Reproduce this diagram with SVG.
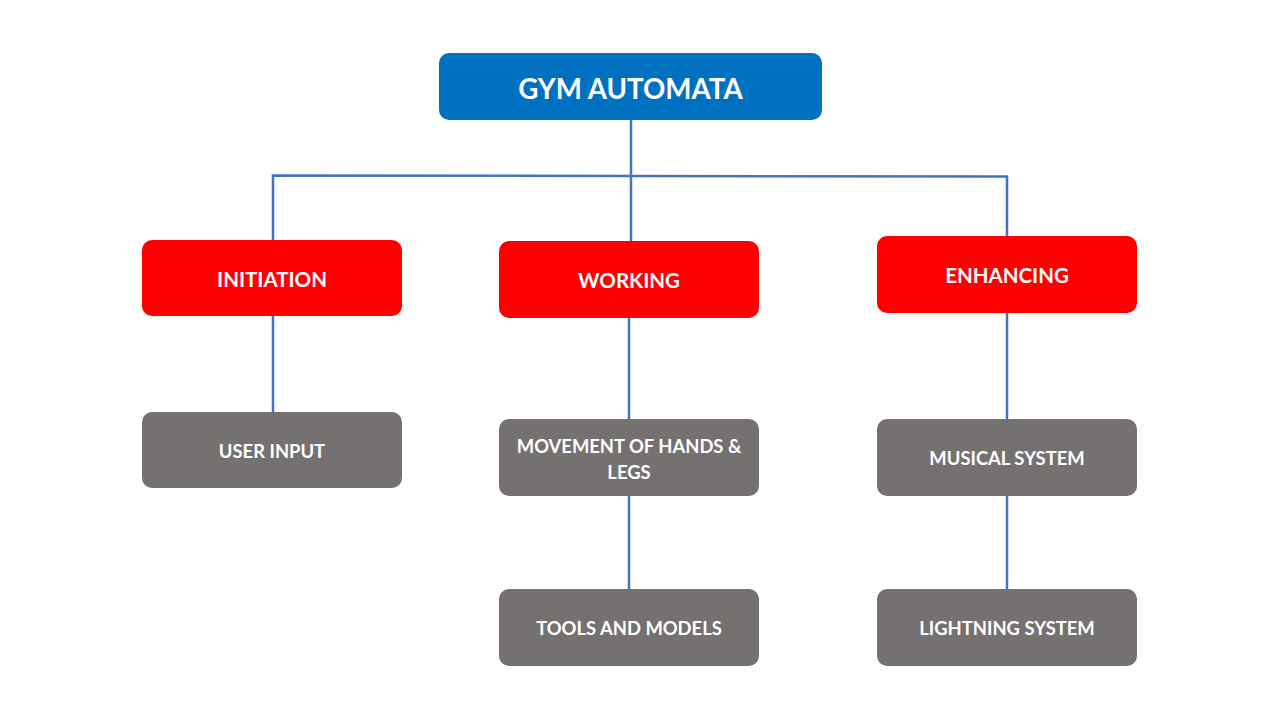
<svg xmlns="http://www.w3.org/2000/svg" width="1280" height="720" viewBox="0 0 1280 720">
<style>
.t{font-family:Lato,"Open Sans","Liberation Sans",sans-serif;font-weight:700;fill:#fff;text-anchor:middle;dominant-baseline:central}
.top{fill:#0070C0}
.red{fill:#FF0000}
.grey{fill:#767171}
.c{stroke:#4472C4;stroke-width:2.5;fill:none}
</style>
<rect width="1280" height="720" fill="#fff"/>
<g id="connectors">
<line class="c" x1="631" y1="120" x2="631" y2="241"/>
<polyline class="c" points="273,240 273,175.5 1007,176.5 1007,236"/>
<line class="c" x1="273" y1="316" x2="273" y2="412"/>
<line class="c" x1="629" y1="318" x2="629" y2="419"/>
<line class="c" x1="629" y1="496" x2="629" y2="589"/>
<line class="c" x1="1007" y1="313" x2="1007" y2="419"/>
<line class="c" x1="1007" y1="496" x2="1007" y2="589"/>
</g>
<g id="gym-automata">
<rect class="top" x="439" y="53" width="383" height="67" rx="10"/>
<text class="t" x="630.5" y="88" font-size="27.7">GYM AUTOMATA</text>
</g>
<g id="initiation">
<rect class="red" x="142" y="240" width="260" height="76" rx="10"/>
<text class="t" x="272" y="279" font-size="20.5">INITIATION</text>
</g>
<g id="working">
<rect class="red" x="499" y="241" width="260" height="77" rx="10"/>
<text class="t" x="629" y="280" font-size="20.5">WORKING</text>
</g>
<g id="enhancing">
<rect class="red" x="877" y="236" width="260" height="77" rx="10"/>
<text class="t" x="1007" y="275" font-size="20.5">ENHANCING</text>
</g>
<g id="user-input">
<rect class="grey" x="142" y="412" width="260" height="76" rx="10"/>
<text class="t" x="272" y="451" font-size="18.4">USER INPUT</text>
</g>
<g id="movement">
<rect class="grey" x="499" y="419" width="260" height="77" rx="10"/>
<text class="t" x="629" y="446" font-size="18.4">MOVEMENT  OF HANDS &amp;</text>
<text class="t" x="629" y="472" font-size="18.4">LEGS</text>
</g>
<g id="tools-and-models">
<rect class="grey" x="499" y="589" width="260" height="77" rx="10"/>
<text class="t" x="629" y="628" font-size="18.4">TOOLS  AND MODELS</text>
</g>
<g id="musical-system">
<rect class="grey" x="877" y="419" width="260" height="77" rx="10"/>
<text class="t" x="1007" y="458" font-size="18.4">MUSICAL SYSTEM</text>
</g>
<g id="lightning-system">
<rect class="grey" x="877" y="589" width="260" height="77" rx="10"/>
<text class="t" x="1007" y="628" font-size="18.4">LIGHTNING SYSTEM</text>
</g>
</svg>
